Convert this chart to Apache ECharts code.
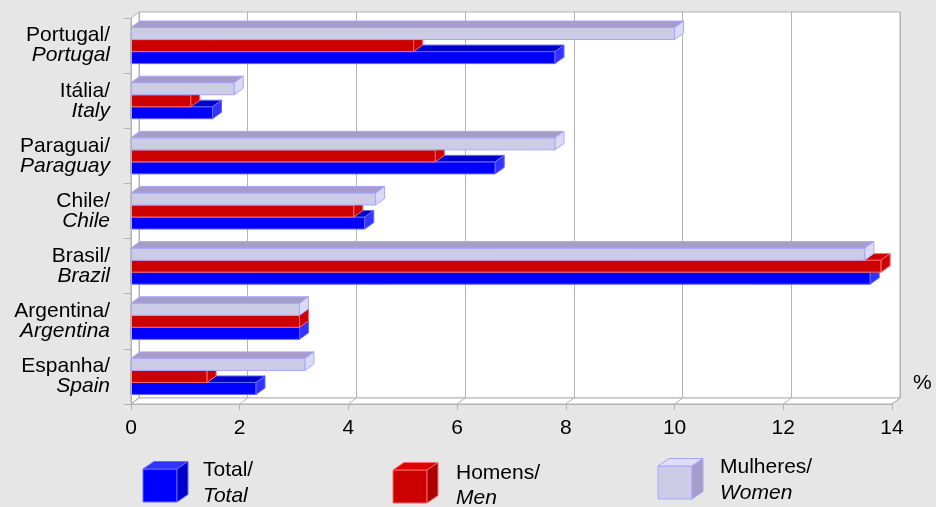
<!DOCTYPE html>
<html>
<head>
<meta charset="utf-8">
<script src="https://cdn.jsdelivr.net/npm/echarts@6/dist/echarts.min.js"></script>
<style>
html,body{margin:0;padding:0;background:#e6e6e6;}
#chart{width:936px;height:507px;}
</style>
</head>
<body>
<div id="chart"></div>
<script>
// ---- data ----
const categoriesPt = ['Portugal/', 'Itália/', 'Paraguai/', 'Chile/', 'Brasil/', 'Argentina/', 'Espanha/'];
const categoriesEn = ['Portugal', 'Italy', 'Paraguay', 'Chile', 'Brazil', 'Argentina', 'Spain'];
const total = [7.8, 1.5, 6.7, 4.3, 13.6, 3.1, 2.3];
const men = [5.2, 1.1, 5.6, 4.1, 13.8, 3.1, 1.4];
const women = [10.0, 1.9, 7.8, 4.5, 13.5, 3.1, 3.2];
const seriesNamesPt = ['Total/', 'Homens/', 'Mulheres/'];
const seriesNamesEn = ['Total', 'Men', 'Women'];
const xTicks = [0, 2, 4, 6, 8, 10, 12, 14];
const unitLabel = '%';

// ---- layout / style ----
const FONT = '"Liberation Sans", Arial, sans-serif';
const W = 936, H = 507;
const front = {left: 131, right: 892, top: 18, bottom: 404};
const WD = {dx: 8, dy: 6};     // wall depth
const BD = {dx: 9, dy: 6.5};   // bar depth
const GRID = '#b3b3b3';

const styles = [
  {front: '#0000ff', top: '#0000cc', side: '#3333ff', stroke: '#6666ff',
   lFront: '#0000ff', lTop: '#3333ff', lSide: '#0000cc'},
  {front: '#cc0000', top: '#cc0000', side: '#cc0000', stroke: '#ff6666',
   lFront: '#cc0000', lTop: '#dd0000', lSide: '#aa0000'},
  {front: '#ccccE6', top: '#a79cc9', side: '#dadaf4', stroke: '#a6a6ff',
   lFront: '#ccccE6', lTop: '#ddddf5', lSide: '#a79cc9'}
];
const seriesValues = [total, men, women];
// position within category (0 = top slot)
const slot = [2, 1, 0];

function makeRender(si) {
  const st = styles[si];
  return function (params, api) {
    const cat = api.value(1);
    const val = api.value(0);
    const p0 = api.coord([0, cat]);
    const p1 = api.coord([val, cat]);
    const band = api.size([0, 1])[1];
    const h = band * 0.218;
    const y = p0[1] - 1.5 * h + slot[si] * h;
    const x0 = p0[0], x1 = p1[0];
    const dx = BD.dx, dy = BD.dy;
    return {
      type: 'group',
      children: [
        {type: 'rect', shape: {x: x0, y: y, width: x1 - x0, height: h},
         style: {fill: st.front, stroke: st.stroke, lineWidth: 1}},
        {type: 'polygon', shape: {points: [[x0, y], [x1, y], [x1 + dx, y - dy], [x0 + dx, y - dy]]},
         style: {fill: st.top, stroke: st.stroke, lineWidth: 1}},
        {type: 'polygon', shape: {points: [[x1, y], [x1 + dx, y - dy], [x1 + dx, y + h - dy], [x1, y + h]]},
         style: {fill: st.side, stroke: st.stroke, lineWidth: 1}}
      ]
    };
  };
}

const series = seriesValues.map((vals, si) => ({
  type: 'custom',
  name: seriesNamesEn[si],
  xAxisIndex: 0,
  yAxisIndex: 0,
  clip: false,
  z: 2,
  renderItem: makeRender(si),
  encode: {x: 0, y: 1},
  data: vals.map((v, i) => [v, i])
}));

const chart = echarts.init(document.getElementById('chart'), null, {renderer: 'canvas'});

const option = {
  backgroundColor: '#e6e6e6',
  animation: false,
  textStyle: {fontFamily: FONT},
  grid: [
    {left: front.left, right: W - front.right, top: front.top, bottom: H - front.bottom, containLabel: false},
    {left: front.left + WD.dx, right: W - front.right - WD.dx, top: front.top - WD.dy, bottom: H - front.bottom + WD.dy,
     show: true, backgroundColor: '#ffffff', borderColor: GRID, borderWidth: 1, z: 0}
  ],
  xAxis: [
    {type: 'value', gridIndex: 0, min: 0, max: 14, interval: 2, z: 3,
     axisLine: {show: true, lineStyle: {color: GRID, width: 1}},
     axisTick: {show: true, length: 6, lineStyle: {color: GRID}},
     splitLine: {show: false},
     axisLabel: {color: '#000', fontSize: 21, fontFamily: FONT, margin: 14}},
    {type: 'value', gridIndex: 1, min: 0, max: 14, interval: 2,
     axisLine: {show: false}, axisTick: {show: false}, axisLabel: {show: false},
     splitLine: {show: true, lineStyle: {color: GRID, width: 1}}}
  ],
  yAxis: [
    {type: 'category', gridIndex: 0, inverse: true, z: 3,
     data: categoriesPt.map((c, i) => c + '|' + categoriesEn[i]),
     axisLine: {show: true, lineStyle: {color: GRID, width: 1}},
     axisTick: {show: true, length: 7, lineStyle: {color: GRID}},
     splitLine: {show: false},
     axisLabel: {
       margin: 21, align: 'right',
       formatter: function (v) { const p = v.split('|'); return '{a|' + p[0] + '}\n{b|' + p[1] + '}'; },
       rich: {
         a: {fontSize: 21, lineHeight: 20, color: '#000', fontFamily: FONT, align: 'right'},
         b: {fontSize: 21, lineHeight: 20, color: '#000', fontFamily: FONT, fontStyle: 'italic', align: 'right'}
       }
     }},
    {type: 'category', gridIndex: 1, inverse: true, data: categoriesPt,
     show: false}
  ],
  series: series
};
chart.setOption(option);

// ---- walls, floor lines, legend (decoration) ----
const gfx = [];
const fl = front.left, fr = front.right, ft = front.top, fb = front.bottom;
gfx.push({type: 'polygon', z: 1, shape: {points: [[fl, fb], [fl, ft], [fl + WD.dx, ft - WD.dy], [fl + WD.dx, fb - WD.dy]]},
  style: {fill: '#fff', stroke: GRID, lineWidth: 1}});
gfx.push({type: 'polygon', z: 1, shape: {points: [[fl, fb], [fr, fb], [fr + WD.dx, fb - WD.dy], [fl + WD.dx, fb - WD.dy]]},
  style: {fill: '#fff', stroke: GRID, lineWidth: 1}});
xTicks.forEach(t => {
  const px = chart.convertToPixel({xAxisIndex: 0}, t);
  gfx.push({type: 'line', z: 1, shape: {x1: px, y1: fb, x2: px + WD.dx, y2: fb - WD.dy},
    style: {stroke: GRID, lineWidth: 1}});
});
gfx.push({type: 'text', z: 5, style: {text: unitLabel, x: 913, y: 383, verticalAlign: 'middle',
  font: '21px ' + FONT, fill: '#000'}});

const legendPos = [
  {x: 143, y: 469, tx: 203, ty1: 470, ty2: 496},
  {x: 393, y: 470, tx: 456, ty1: 473, ty2: 498},
  {x: 658, y: 466, tx: 720, ty1: 467, ty2: 493}
];
legendPos.forEach((lp, si) => {
  const st = styles[si];
  const w = 34, h = 33, dx = 11, dy = 7.5;
  const x = lp.x, y = lp.y;
  gfx.push({type: 'rect', z: 5, shape: {x: x, y: y, width: w, height: h},
    style: {fill: st.lFront, stroke: st.stroke, lineWidth: 1}});
  gfx.push({type: 'polygon', z: 5, shape: {points: [[x, y], [x + w, y], [x + w + dx, y - dy], [x + dx, y - dy]]},
    style: {fill: st.lTop, stroke: st.stroke, lineWidth: 1}});
  gfx.push({type: 'polygon', z: 5, shape: {points: [[x + w, y], [x + w + dx, y - dy], [x + w + dx, y + h - dy], [x + w, y + h]]},
    style: {fill: st.lSide, stroke: st.stroke, lineWidth: 1}});
  gfx.push({type: 'text', z: 5, style: {text: seriesNamesPt[si], x: lp.tx, y: lp.ty1, verticalAlign: 'middle',
    font: '21px ' + FONT, fill: '#000'}});
  gfx.push({type: 'text', z: 5, style: {text: seriesNamesEn[si], x: lp.tx, y: lp.ty2, verticalAlign: 'middle',
    font: 'italic 21px ' + FONT, fill: '#000'}});
});
chart.setOption({graphic: {elements: gfx}});
</script>
</body>
</html>
